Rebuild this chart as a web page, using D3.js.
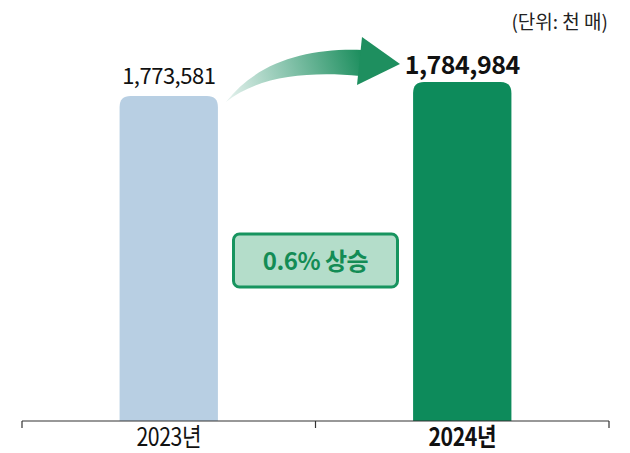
<!DOCTYPE html>
<html>
<head>
<meta charset="utf-8">
<script src="https://cdn.jsdelivr.net/npm/d3@7"></script>
<style>
  body { margin: 0; background: #fff; }
  svg { display: block; font-family: "Noto Sans CJK KR", "Noto Sans", sans-serif; }
</style>
</head>
<body>
<div id="chart"></div>
<script>
// Data
const years = ["2023년", "2024년"];
const values = [1773581, 1784984];
const barColors = ["#b8cfe3", "#0d8b5b"];
const changeLabel = "0.6% 상승";
const unitLabel = "(단위: 천 매)";

const W = 630, H = 453;
const axisY = 421;

const svg = d3.select("#chart").append("svg")
    .attr("width", W)
    .attr("height", H);

// Scales
const x = d3.scaleBand()
    .domain(years)
    .range([22, 609])
    .paddingInner(0)
    .paddingOuter(0);

const barW = x.bandwidth() * 0.335;

const y = d3.scaleLinear()
    .domain([1511300, 1784984])
    .range([axisY, 82]);

// Gradient for the arrow
const defs = svg.append("defs");
const grad = defs.append("linearGradient")
    .attr("id", "arrowGrad")
    .attr("gradientUnits", "userSpaceOnUse")
    .attr("x1", 228).attr("y1", 100)
    .attr("x2", 362).attr("y2", 60);
grad.append("stop").attr("offset", "0%").attr("stop-color", "#e4f1ed");
grad.append("stop").attr("offset", "45%").attr("stop-color", "#8cc6b0");
grad.append("stop").attr("offset", "100%").attr("stop-color", "#1e8f5f");

// Bars with rounded top corners
function barPath(x0, y0, w, h, r) {
    return `M${x0},${y0 + h}V${y0 + r}Q${x0},${y0} ${x0 + r},${y0}` +
        `H${x0 + w - r}Q${x0 + w},${y0} ${x0 + w},${y0 + r}V${y0 + h}Z`;
}

svg.append("g")
    .selectAll("path")
    .data(years)
    .join("path")
    .attr("d", (d, i) => {
        const cx = x(d) + x.bandwidth() / 2;
        return barPath(cx - barW / 2, y(values[i]), barW, axisY - y(values[i]), 11);
    })
    .attr("fill", (d, i) => barColors[i]);

// Value labels
svg.append("g")
    .selectAll("text")
    .data(years)
    .join("text")
    .attr("x", d => x(d) + x.bandwidth() / 2)
    .attr("y", (d, i) => y(values[i]) - (i === 1 ? 8 : 12))
    .attr("text-anchor", "middle")
    .attr("font-size", (d, i) => i === 1 ? 25 : 22)
    .attr("font-weight", (d, i) => i === 1 ? "bold" : "normal")
    .attr("letter-spacing", -0.5)
    .attr("fill", "#111")
    .text((d, i) => d3.format(",")(values[i]));

// Curved arrow from 2023 bar toward 2024 label
const b1 = x(years[0]) + x.bandwidth() / 2 + barW / 2;
const b1y = y(values[0]);
const headX = 400, headY = 64;
svg.append("path")
    .attr("d", `M${b1 + 8},${b1y + 6}` +
        `C${b1 + 40},${b1y - 35} ${b1 + 90},${b1y - 48} ${headX - 38},${headY - 14}` +
        `L${headX - 40},${headY + 12}` +
        `C${b1 + 90},${b1y - 25} ${b1 + 40},${b1y - 20} ${b1 + 8},${b1y + 6}Z`)
    .attr("fill", "url(#arrowGrad)");
svg.append("path")
    .attr("d", `M${headX - 38},${headY - 27}L${headX},${headY}L${headX - 43},${headY + 21}Z`)
    .attr("fill", "#1e8f5f");

// Change callout box
const midX = (x.range()[0] + x.range()[1]) / 2;
svg.append("rect")
    .attr("x", midX - 82)
    .attr("y", 234)
    .attr("width", 164)
    .attr("height", 53)
    .attr("rx", 6)
    .attr("fill", "#b4ddca")
    .attr("stroke", "#17945f")
    .attr("stroke-width", 3);
svg.append("text")
    .attr("x", midX)
    .attr("y", 270)
    .attr("text-anchor", "middle")
    .attr("font-size", 24)
    .attr("font-weight", "bold")
    .attr("fill", "#138c55")
    .attr("letter-spacing", -0.5)
    .text(changeLabel);

// Axis
const axis = svg.append("g");
axis.append("line")
    .attr("x1", x.range()[0]).attr("x2", x.range()[1])
    .attr("y1", axisY).attr("y2", axisY)
    .attr("stroke", "#333").attr("stroke-width", 1.2);
const tickXs = [x.range()[0], x(years[1]), x.range()[1]];
axis.selectAll("line.tick")
    .data(tickXs)
    .join("line")
    .attr("class", "tick")
    .attr("x1", d => d).attr("x2", d => d)
    .attr("y1", axisY).attr("y2", axisY + 7)
    .attr("stroke", "#333").attr("stroke-width", 1.2);
// condensed year labels
axis.selectAll("text")
    .data(years)
    .join("text")
    .attr("transform", d => `translate(${x(d) + x.bandwidth() / 2},446) scale(0.85,1)`)
    .attr("text-anchor", "middle")
    .attr("font-size", 25)
    .attr("font-weight", (d, i) => i === 1 ? "bold" : "normal")
    .attr("letter-spacing", -0.5)
    .attr("fill", "#111")
    .text(d => d);

// Unit label
svg.append("text")
    .attr("x", 608)
    .attr("y", 29)
    .attr("text-anchor", "end")
    .attr("font-size", 19)
    .attr("fill", "#222")
    .text(unitLabel);
</script>
</body>
</html>
